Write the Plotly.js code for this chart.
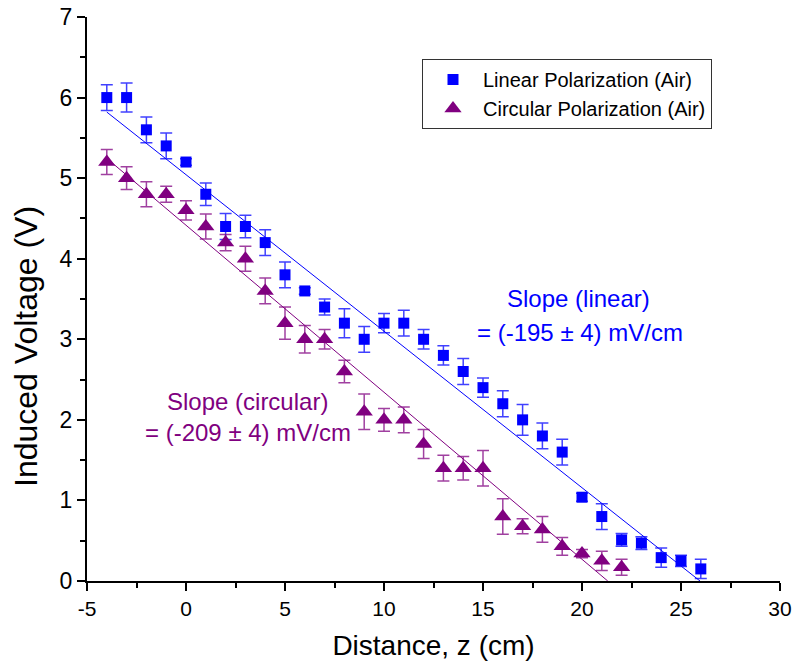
<!DOCTYPE html>
<html>
<head>
<meta charset="utf-8">
<script src="https://cdn.plot.ly/plotly-3.0.1.min.js"></script>
<style>
  html, body { margin: 0; padding: 0; background: #ffffff; }
  #chart { width: 797px; height: 672px; }
</style>
</head>
<body>
<div id="chart"></div>
<script>
// ---- data ----
const linearZ = [-4,-3,-2,-1,0,1,2,3,4,5,6,7,8,9,10,11,12,13,14,15,16,17,18,19,20,21,22,23,24,25,26];
const linearV = [6.00,6.00,5.60,5.40,5.20,4.80,4.40,4.40,4.20,3.80,3.60,3.40,3.20,3.00,3.20,3.20,3.00,2.80,2.60,2.40,2.20,2.00,1.80,1.60,1.04,0.80,0.51,0.47,0.29,0.25,0.15];
const linearErr = [0.16,0.18,0.16,0.16,0.04,0.14,0.16,0.14,0.16,0.16,0.04,0.10,0.18,0.16,0.12,0.16,0.12,0.12,0.16,0.12,0.16,0.19,0.16,0.16,0.05,0.16,0.08,0.08,0.12,0.07,0.12];

const circularZ = [-4,-3,-2,-1,0,1,2,3,4,5,6,7,8,9,10,11,12,13,14,15,16,17,18,19,20,21,22];
const circularV = [5.20,5.00,4.80,4.80,4.60,4.40,4.20,4.00,3.60,3.20,3.00,3.00,2.60,2.10,2.00,2.00,1.70,1.40,1.40,1.40,0.80,0.68,0.64,0.43,0.34,0.25,0.17];
const circularErr = [0.155,0.14,0.155,0.10,0.12,0.155,0.10,0.155,0.16,0.20,0.17,0.12,0.14,0.22,0.14,0.16,0.18,0.16,0.145,0.22,0.22,0.094,0.16,0.11,0.05,0.12,0.10];

// linear fit lines (end points of the fitted lines)
const fitLinearZ = [-4, 25.96];
const fitLinearV = [5.82, 0];
const fitCircularZ = [-4, 21.3];
const fitCircularV = [5.245, 0];

const xTickVals = [-5,0,5,10,15,20,25,30];
const xTickText = ['-5','0','5','10','15','20','25','30'];
const yTickVals = [0,1,2,3,4,5,6,7];
const yTickText = ['0','1','2','3','4','5','6','7'];

const seriesNames = ['Linear Polarization (Air)', 'Circular Polarization (Air)'];
const xTitle = 'Distance, z (cm)';
const yTitle = 'Induced Voltage (V)';
const slopeTexts = ['Slope (linear)', '= (-195 \u00B1 4) mV/cm', 'Slope (circular)', '= (-209 \u00B1 4) mV/cm'];

// ---- styles ----
const BLUE = '#0000ff';
const PURPLE = '#800080';
const FONT = 'Arial, "Liberation Sans", Helvetica, sans-serif';

const traces = [
  {
    x: fitLinearZ, y: fitLinearV, mode: 'lines', showlegend: false, hoverinfo: 'skip',
    line: { color: BLUE, width: 1 }
  },
  {
    x: fitCircularZ, y: fitCircularV, mode: 'lines', showlegend: false, hoverinfo: 'skip',
    line: { color: PURPLE, width: 1 }
  },
  {
    x: linearZ, y: linearV, mode: 'markers', name: seriesNames[0],
    marker: { symbol: 'square', size: 11, color: BLUE },
    error_y: { type: 'data', array: linearErr, visible: true, color: 'rgba(0,0,255,0.75)', thickness: 1.5, width: 6 }
  },
  {
    x: circularZ, y: circularV, mode: 'markers', name: seriesNames[1],
    marker: { symbol: 'triangle-up', size: 15, color: PURPLE },
    error_y: { type: 'data', array: circularErr, visible: true, color: 'rgba(128,0,128,0.75)', thickness: 1.5, width: 6 }
  }
];

const layout = {
  width: 797, height: 672,
  margin: { l: 87, r: 17, t: 17, b: 91 },
  paper_bgcolor: '#ffffff', plot_bgcolor: '#ffffff',
  font: { family: FONT, color: '#000000' },
  showlegend: true,
  legend: {
    x: 0.4834, y: 0.9255, xanchor: 'left', yanchor: 'top',
    bgcolor: '#ffffff', bordercolor: '#333333', borderwidth: 1,
    font: { family: FONT, size: 20, color: '#000000' },
    itemwidth: 50,
    tracegroupgap: 0
  },
  xaxis: {
    range: [-5, 30], tickmode: 'array', tickvals: xTickVals, ticktext: xTickText,
    ticks: 'outside', ticklen: 8, tickwidth: 2, tickcolor: '#000',
    showline: true, linewidth: 2, linecolor: '#000',
    showgrid: false, zeroline: false,
    tickfont: { family: FONT, size: 21, color: '#000' },
    minor: { dtick: 2.5, ticks: 'outside', ticklen: 5, tickwidth: 2, tickcolor: '#000', showgrid: false },
    title: { text: xTitle, font: { family: FONT, size: 28, color: '#000' }, standoff: 16 }
  },
  yaxis: {
    range: [0, 7], tickmode: 'array', tickvals: yTickVals, ticktext: yTickText,
    ticks: 'outside', ticklen: 8, tickwidth: 2, tickcolor: '#000',
    showline: true, linewidth: 2, linecolor: '#000',
    showgrid: false, zeroline: false,
    tickfont: { family: FONT, size: 23, color: '#000' },
    minor: { dtick: 0.5, ticks: 'outside', ticklen: 5, tickwidth: 2, tickcolor: '#000', showgrid: false }
  },
  annotations: [
    { xref: 'paper', yref: 'paper', x: -0.088, y: 0.415, text: yTitle, textangle: -90, showarrow: false,
      xanchor: 'center', yanchor: 'middle', font: { family: FONT, size: 32, color: '#000' } },
    { x: 19.80, y: 3.51, xref: 'x', yref: 'y', text: slopeTexts[0], showarrow: false, xanchor: 'center', yanchor: 'middle', font: { family: FONT, size: 24, color: BLUE } },
    { x: 19.90, y: 3.09, xref: 'x', yref: 'y', text: slopeTexts[1], showarrow: false, xanchor: 'center', yanchor: 'middle', font: { family: FONT, size: 24, color: BLUE } },
    { x: 3.11, y: 2.23, xref: 'x', yref: 'y', text: slopeTexts[2], showarrow: false, xanchor: 'center', yanchor: 'middle', font: { family: FONT, size: 24, color: PURPLE } },
    { x: 3.11, y: 1.84, xref: 'x', yref: 'y', text: slopeTexts[3], showarrow: false, xanchor: 'center', yanchor: 'middle', font: { family: FONT, size: 24, color: PURPLE } }
  ]
};

Plotly.newPlot('chart', traces, layout, { displayModeBar: false, staticPlot: true });
</script>
</body>
</html>
